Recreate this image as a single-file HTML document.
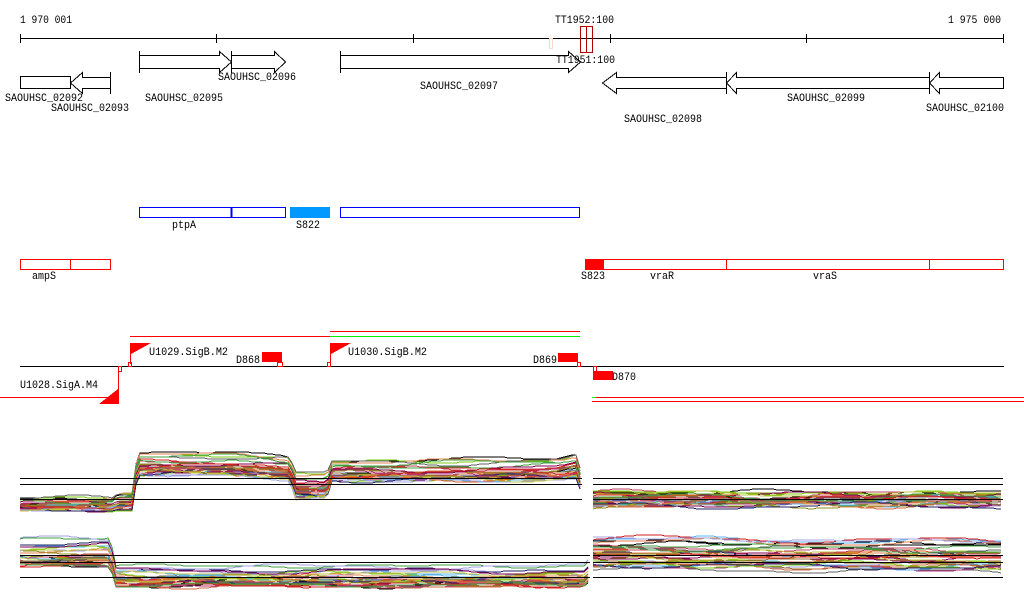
<!DOCTYPE html>
<html><head><meta charset="utf-8"><style>
html,body{margin:0;padding:0;background:#fff;width:1024px;height:611px;overflow:hidden}
svg{display:block}
text{font-family:"Liberation Mono",monospace;font-size:11px;fill:#000}
</style></head><body>
<svg id="s" width="1024" height="611" viewBox="0 0 1024 611" xmlns="http://www.w3.org/2000/svg" shape-rendering="crispEdges">
<g fill="none" stroke="#000" stroke-width="1">
<line x1="20" y1="38.5" x2="1004" y2="38.5"/>
<path d="M20.5 34v9M216.5 34v9M413.5 34v9M610.5 34v9M806.5 34v9M1003.5 34v9"/>
</g>
<text x="20" y="23" textLength="52" lengthAdjust="spacingAndGlyphs">1 970 001</text>
<text x="948" y="23" textLength="53" lengthAdjust="spacingAndGlyphs">1 975 000</text>
<text x="555" y="23" textLength="59" lengthAdjust="spacingAndGlyphs">TT1952:100</text>
<text x="556" y="63" textLength="59" lengthAdjust="spacingAndGlyphs">TT1951:100</text>
<rect x="549.5" y="38.5" width="3" height="10" fill="none" stroke="#fcd8c8"/>
<rect x="580.5" y="26.5" width="12" height="26" fill="none" stroke="#b00000"/>
<line x1="586.5" y1="26" x2="586.5" y2="53" stroke="#b00000"/>
<g fill="none" stroke="#000">
<rect x="20.5" y="76.5" width="50" height="12"/>
<path d="M110.5 72v22M110.5 77.5H82.5V72.5L70.5 83L82.5 93.5V88.5H110.5"/>
<path d="M139.5 51v22M139.5 55.5H219.5V51.5L231.5 62L219.5 72.5V68.5H139.5"/>
<path d="M231.5 51v22M231.5 55.5H274.5V51.5L285.5 62L274.5 72.5V68.5H231.5"/>
<path d="M340.5 51v22M340.5 55.5H568.5V51.5L580.5 62L568.5 72.5V68.5H340.5"/>
<path d="M726.5 72v22M726.5 77.5H616.5V72.5L602.5 83L616.5 93.5V88.5H726.5"/>
<path d="M929.5 72v22M929.5 77.5H736.5V72.5L726.5 83L736.5 93.5V88.5H929.5"/>
<path d="M1003.5 77.5H939.5V72.5L929.5 83L939.5 93.5V88.5H1003.5Z"/>
</g>
<g>
<text x="5" y="101" textLength="78" lengthAdjust="spacingAndGlyphs">SAOUHSC_02092</text>
<text x="51" y="111" textLength="78" lengthAdjust="spacingAndGlyphs">SAOUHSC_02093</text>
<text x="145" y="101" textLength="78" lengthAdjust="spacingAndGlyphs">SAOUHSC_02095</text>
<text x="218" y="80" textLength="78" lengthAdjust="spacingAndGlyphs">SAOUHSC_02096</text>
<text x="420" y="89" textLength="78" lengthAdjust="spacingAndGlyphs">SAOUHSC_02097</text>
<text x="624" y="122" textLength="78" lengthAdjust="spacingAndGlyphs">SAOUHSC_02098</text>
<text x="787" y="101" textLength="78" lengthAdjust="spacingAndGlyphs">SAOUHSC_02099</text>
<text x="926" y="111" textLength="78" lengthAdjust="spacingAndGlyphs">SAOUHSC_02100</text>
</g>
<g fill="none" stroke="#0000ff">
<rect x="139.5" y="207.5" width="146" height="10"/>
<line x1="231.5" y1="207" x2="231.5" y2="218" stroke-width="2"/>
<rect x="340.5" y="207.5" width="239" height="10"/>
</g>
<rect x="290" y="207" width="40" height="11" fill="#0099ff"/>
<text x="172" y="228" textLength="24" lengthAdjust="spacingAndGlyphs">ptpA</text>
<text x="296" y="228" textLength="24" lengthAdjust="spacingAndGlyphs">S822</text>
<g fill="none" stroke="#ff0000">
<rect x="20.5" y="259.5" width="90" height="10"/>
<line x1="70.5" y1="259" x2="70.5" y2="270"/>
<rect x="603.5" y="259.5" width="400" height="10"/>
<line x1="726.5" y1="259" x2="726.5" y2="270"/>
<line x1="929.5" y1="259" x2="929.5" y2="270"/>
</g>
<rect x="585" y="259" width="18" height="11" fill="#ff0000"/>
<text x="32" y="279" textLength="24" lengthAdjust="spacingAndGlyphs">ampS</text>
<text x="581" y="279" textLength="24" lengthAdjust="spacingAndGlyphs">S823</text>
<text x="650" y="279" textLength="24" lengthAdjust="spacingAndGlyphs">vraR</text>
<text x="813" y="279" textLength="24" lengthAdjust="spacingAndGlyphs">vraS</text>
<line x1="20" y1="366.5" x2="1004" y2="366.5" stroke="#000"/>
<g stroke="#ff0000" fill="none">
<line x1="130" y1="336.5" x2="330" y2="336.5"/>
<line x1="330" y1="331.5" x2="580" y2="331.5"/>
<line x1="0" y1="397.5" x2="119" y2="397.5"/>
<line x1="596" y1="397.5" x2="1024" y2="397.5"/>
<line x1="592" y1="401.5" x2="1024" y2="401.5"/>
<line x1="130.5" y1="343" x2="130.5" y2="364"/>
<line x1="330.5" y1="343" x2="330.5" y2="364"/>
<line x1="118.5" y1="370" x2="118.5" y2="404"/>
<rect x="118.5" y="366.5" width="3" height="5"/>
<rect x="128.5" y="362.5" width="3" height="4"/>
<rect x="277.5" y="362.5" width="5" height="4"/>
<rect x="327.5" y="362.5" width="3" height="4"/>
<rect x="577.5" y="362.5" width="3" height="4"/>
<rect x="593.5" y="366.5" width="3" height="5"/>
</g>
<line x1="330" y1="336.5" x2="580" y2="336.5" stroke="#00ee00"/>
<line x1="592" y1="397.5" x2="596" y2="397.5" stroke="#00ee00"/>
<g fill="#ff0000">
<path d="M131 343H151L131 354Z"/>
<path d="M331 343H351L331 354Z"/>
<path d="M118 389V404H99Z"/>
<rect x="262" y="352" width="20" height="10"/>
<rect x="558" y="353" width="20" height="9"/>
<rect x="593" y="371" width="20" height="9"/>
</g>
<text x="149" y="355" textLength="79" lengthAdjust="spacingAndGlyphs">U1029.SigB.M2</text>
<text x="348" y="355" textLength="79" lengthAdjust="spacingAndGlyphs">U1030.SigB.M2</text>
<text x="20" y="388" textLength="78" lengthAdjust="spacingAndGlyphs">U1028.SigA.M4</text>
<text x="236" y="363" textLength="24" lengthAdjust="spacingAndGlyphs">D868</text>
<text x="533" y="363" textLength="24" lengthAdjust="spacingAndGlyphs">D869</text>
<text x="612" y="380" textLength="24" lengthAdjust="spacingAndGlyphs">D870</text>
<g id="data"></g>
<g stroke="#000" fill="none">
<path d="M20 478.5H582M20 484.5H582M20 499.5H582M593 478.5H1003M593 484.5H1003M593 499.5H1003"/>
<path d="M20 555.5H590M20 562.5H590M20 577.5H590M593 555.5H1003M593 562.5H1003M593 577.5H1003"/>
</g>
</svg>
<script>
(function(){
var g=document.getElementById('data');
var seed=7;function r(){seed=(seed*16807)%2147483647;return seed/2147483647;}
var cols=['#e05a1a','#b0307a','#5ab4f0','#8c8c1e','#d06a40','#7acc10','#a0a0e0','#800050','#202060','#c04060','#e08050','#9a6a30','#c0c040','#606060','#d02020','#40a040'];
function interp(k,x){for(var i=0;i<k.length-1;i++){if(x>=k[i][0]&&x<=k[i+1][0]){var t=(x-k[i][0])/(k[i+1][0]-k[i][0]);return [k[i][1]+t*(k[i+1][1]-k[i][1]),k[i][2]+t*(k[i+1][2]-k[i][2])];}}return [k[k.length-1][1],k[k.length-1][2]];}
function band(k,x0,x1,n){
 for(var i=0;i<n;i++){
  var o=r()*2-1,ph=r()*6,ph2=r()*6,a=1+r()*2.5;var pts=[];
  for(var x=x0;x<=x1;x+=4){var b=interp(k,x);var y=b[0]+o*b[1]+Math.sin(x/41+ph)*a+Math.sin(x/17+ph2)*1.0;pts.push(x+','+Math.round(y));}
  var p=document.createElementNS('http://www.w3.org/2000/svg','polyline');
  p.setAttribute('points',pts.join(' '));p.setAttribute('fill','none');
  p.setAttribute('stroke',i<2?'#000':cols[i%cols.length]);p.setAttribute('stroke-width','1');
  g.appendChild(p);}
}
band([[20,504,6],[113,504,6],[117,501,8],[133,501,8],[137,464,11],[230,464,11],[290,468,11],[295,485,13],[327,485,13],[332,471,10],[560,469,11],[578,466,12],[582,490,8]],20,582,32);
band([[593,498,8],[700,499,7],[1003,499,7]],593,1003,32);
band([[20,552,14],[110,552,14],[116,576,10],[586,576,10],[590,568,10]],20,590,32);
band([[593,553,16],[700,554,16],[1003,556,16]],593,1003,32);
})();
</script>
</body></html>
